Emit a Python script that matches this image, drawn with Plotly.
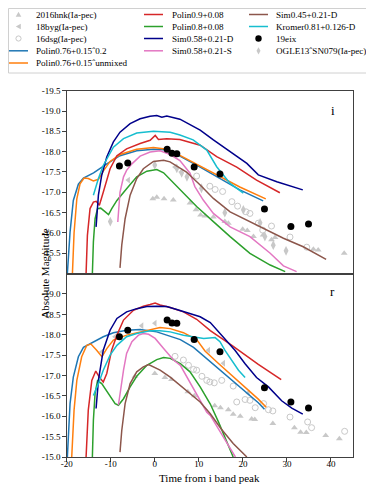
import plotly.graph_objects as go

# ---------------- data: i band (top panel) ----------------
hnk_i_t = [-0.45, 0.45, 2.1, 4.2, 8.0, 9.35, 10.4, 11.4, 13.3, 15.9, 16.7, 19.95, 21.0, 22.4, 24.6, 26.5, 27.3, 36.0, 37.1, 43.0]
hnk_i_m = [-16.84, -16.88, -16.84, -16.81, -16.74, -16.57, -16.44, -16.42, -16.39, -16.28, -16.24, -16.09, -16.06, -15.91, -15.95, -15.83, -15.89, -15.6, -15.58, -15.5]
byg_i_t = [-6.0, 4.6, 6.0]
byg_i_m = [-17.3, -17.62, -17.5]
dsg_i_t = [9.5, 12.5, 13.7, 15.4, 17.5, 18.8, 20.7, 21.6, 23.5, 24.5, 26.5, 30.7, 34.5]
dsg_i_m = [-17.4, -17.15, -17.07, -17.02, -16.77, -16.66, -16.52, -16.48, -16.24, -16.07, -16.17, -15.9, -15.65]
ogle_i_t = [-10.1, 0.0, 5.0, 6.1, 7.3, 10.6, 15.9, 20.1, 23.9, 25.0, 26.9, 29.8]
ogle_i_m = [-16.28, -17.67, -17.59, -17.48, -17.38, -17.1, -16.5, -16.57, -16.25, -15.91, -15.7, -15.56]

eix_t = [-8.03, -6.14, 2.8, 3.9, 5.0, 8.94, 14.8, 24.9, 30.9, 34.9]
eix_i_m = [-17.65, -17.72, -18.06, -17.96, -17.95, -17.62, -17.45, -16.59, -16.16, -16.22]
eix_r_m = [-17.95, -18.11, -18.36, -18.29, -18.28, -17.88, -17.58, -16.7, -16.35, -16.2]

p076_02_i_t = [-19.85, -19.24, -18.5, -17.35, -16.2, -13.9, -10.9, -7.9, -4.1, -0.3, 2.0, 5.7, 10.3, 14.8, 19.3, 24.6]
p076_02_i_m = [-15.0, -16.02, -16.8, -17.2, -17.35, -17.48, -17.7, -17.9, -18.02, -18.06, -18.05, -17.89, -17.62, -17.35, -17.06, -16.79]
p076_un_i_t = [-18.7, -18.33, -17.7, -16.97, -16.06, -15.1, -13.94, -12.8, -11.7, -10.15, -7.9, -4.1, -0.3, 2.7, 5.7, 10.3, 14.8, 19.3, 25.2]
p076_un_i_m = [-15.0, -16.0, -16.84, -17.21, -17.35, -17.34, -17.28, -17.32, -17.52, -17.76, -17.93, -18.06, -18.1, -18.06, -17.91, -17.64, -17.38, -17.13, -16.84]
p09_i_t = [-15.6, -15.3, -14.7, -13.94, -13.3, -12.58, -11.7, -10.15, -8.6, -6.4, -3.33, -1.06, 0.1, 0.83, 2.73, 5.7, 10.3, 14.05, 18.6, 23.1, 28.4]
p09_i_m = [-15.0, -15.94, -16.6, -16.76, -16.78, -16.68, -17.0, -17.58, -17.9, -18.07, -18.2, -18.28, -18.4, -18.3, -18.32, -18.3, -18.16, -17.88, -17.62, -17.3, -16.99]
p08_i_t = [-14.17, -13.94, -13.56, -13.0, -12.27, -11.28, -10.5, -9.77, -8.6, -6.4, -4.1, -1.8, 0.45, 2.0, 3.45, 6.5, 9.5, 13.3, 17.1, 21.6, 26.2, 29.6]
p08_i_m = [-15.0, -15.78, -16.35, -16.6, -16.61, -16.52, -16.45, -16.6, -16.8, -17.09, -17.38, -17.52, -17.56, -17.48, -17.32, -16.98, -16.65, -16.28, -15.91, -15.5, -15.21, -15.05]
simD_i_t = [-13.33, -12.8, -12.05, -10.9, -9.4, -7.9, -5.6, -3.33, -1.06, 0.45, 1.6, 2.73, 5.7, 10.3, 13.3, 17.1, 20.9, 23.5, 27.7, 33.6]
simD_i_m = [-16.15, -16.93, -17.42, -17.87, -18.24, -18.48, -18.69, -18.81, -18.87, -18.89, -18.85, -18.88, -18.8, -18.53, -18.29, -18.0, -17.71, -17.43, -17.26, -17.06]
simS_i_t = [-8.4, -7.9, -7.1, -6.4, -5.2, -3.33, -1.06, 1.2, 3.5, 5.7, 8.0, 9.1, 11.0, 13.3, 17.1, 21.6, 26.2, 29.2, 32.2]
simS_i_m = [-16.27, -17.0, -17.38, -17.54, -17.7, -17.89, -17.99, -18.02, -17.93, -17.78, -17.47, -17.14, -16.81, -16.48, -16.15, -15.91, -15.5, -15.19, -15.05]
sim045_i_t = [-7.9, -7.5, -6.74, -5.6, -4.1, -2.6, -0.3, 2.0, 3.45, 7.2, 10.3, 13.3, 17.1, 20.9, 25.4, 29.2, 33.7, 38.9]
sim045_i_m = [-15.14, -15.7, -16.35, -16.93, -17.34, -17.58, -17.76, -17.79, -17.75, -17.5, -17.18, -16.85, -16.52, -16.32, -16.07, -15.87, -15.66, -15.35]
kro_i_t = [-13.94, -12.8, -11.7, -9.4, -7.1, -4.1, -0.3, 3.5, 5.7, 8.7, 11.8, 14.05, 17.1, 20.1]
kro_i_m = [-16.93, -17.34, -17.66, -18.11, -18.32, -18.46, -18.5, -18.48, -18.41, -18.29, -18.04, -17.63, -17.22, -16.98]

# ---------------- data: r band (bottom panel) ----------------
hnk_r_t = [-4.5, 0.0, 2.3, 3.8, 7.5, 9.0, 13.6, 14.9, 16.7, 17.8, 19.4, 22.0, 22.7, 26.8, 31.7, 33.1, 34.4, 38.8, 41.9]
hnk_r_m = [-16.98, -17.05, -16.95, -16.9, -16.6, -16.5, -16.26, -16.21, -16.16, -16.05, -16.0, -15.93, -15.92, -15.82, -15.72, -15.61, -15.6, -15.53, -15.45]
byg_r_t = [-12.0, -9.0, -2.95, 0.05, 12.2, 15.6, 21.2]
byg_r_m = [-17.58, -17.95, -18.22, -18.28, -17.62, -17.3, -16.57]
dsg_r_t = [4.6, 6.5, 7.65, 8.8, 9.5, 10.7, 11.8, 12.5, 13.5, 15.2, 17.8, 18.6, 20.5, 21.6, 22.8, 24.7, 25.8, 26.8, 30.7, 34.7, 35.6, 43.1]
dsg_r_m = [-17.47, -17.38, -17.25, -17.15, -17.13, -16.98, -16.88, -16.84, -16.82, -16.88, -16.74, -16.35, -16.41, -16.39, -16.21, -16.31, -16.16, -16.13, -15.98, -15.86, -15.72, -15.63]

p076_02_r_t = [-19.85, -19.24, -18.5, -17.35, -16.2, -14.7, -13.2, -11.7, -9.4, -6.4, -3.3, -1.8, 0.45, 2.7, 5.8, 8.8, 11.4, 14.4, 17.5, 20.5, 23.5, 24.9]
p076_02_r_m = [-15.0, -16.31, -16.96, -17.46, -17.69, -17.77, -17.85, -17.95, -18.05, -18.11, -18.13, -18.11, -18.07, -17.99, -17.88, -17.69, -17.45, -17.17, -16.88, -16.6, -16.33, -16.17]
p076_un_r_t = [-18.86, -18.33, -17.7, -16.6, -15.45, -14.5, -13.2, -12.0, -10.9, -9.4, -6.4, -3.3, -1.06, 1.2, 3.5, 6.5, 9.5, 11.4, 14.4, 17.5, 20.5, 23.5, 25.3]
p076_un_r_m = [-15.0, -16.15, -16.88, -17.46, -17.74, -17.77, -17.62, -17.46, -17.66, -17.87, -17.99, -18.07, -18.11, -18.18, -18.15, -18.05, -17.88, -17.6, -17.3, -17.0, -16.7, -16.42, -16.22]
p09_r_t = [-15.6, -15.1, -14.3, -13.4, -12.6, -11.7, -10.9, -9.8, -8.6, -7.1, -4.85, -2.6, -1.06, 0.08, 1.2, 3.5, 6.5, 9.5, 12.6, 17.5, 23.5, 28.7]
p09_r_m = [-15.0, -16.15, -16.88, -17.11, -16.96, -16.84, -17.05, -17.62, -17.99, -18.36, -18.6, -18.7, -18.74, -18.78, -18.73, -18.67, -18.56, -18.38, -18.1, -17.74, -17.27, -16.9]
p08_r_t = [-14.17, -13.94, -13.56, -13.0, -12.05, -11.3, -10.15, -9.0, -8.26, -7.1, -5.6, -4.1, -1.8, 0.45, 2.0, 3.5, 5.8, 8.0, 10.3, 12.6, 14.5, 16.2, 17.8]
p08_r_m = [-15.0, -15.9, -16.56, -16.87, -16.8, -16.68, -16.47, -16.31, -16.27, -16.43, -16.72, -16.98, -17.25, -17.39, -17.44, -17.42, -17.29, -17.09, -16.72, -16.3, -15.85, -15.4, -15.0]
simD_r_t = [-13.33, -12.8, -11.7, -10.15, -8.6, -6.4, -4.1, -1.8, 0.45, 2.7, 5.0, 8.0, 10.3, 12.6, 14.4, 15.9, 18.2, 20.5, 23.1, 25.8, 28.8, 31.1, 33.6]
simD_r_m = [-16.19, -16.88, -17.62, -18.11, -18.4, -18.56, -18.64, -18.69, -18.7, -18.69, -18.62, -18.52, -18.44, -18.3, -18.08, -17.91, -17.62, -17.29, -16.95, -16.72, -16.38, -16.2, -16.05]
simS_r_t = [-8.26, -7.9, -7.1, -6.4, -5.2, -3.7, -2.6, -1.4, 0.08, 2.0, 4.24, 5.8, 7.3, 8.8, 10.3, 11.8, 12.6, 15.5, 18.3]
simS_r_m = [-16.27, -16.55, -17.13, -17.54, -17.83, -17.99, -18.03, -18.01, -17.91, -17.66, -17.38, -17.25, -16.96, -16.68, -16.39, -16.1, -16.02, -15.5, -15.0]
sim045_r_t = [-7.9, -7.5, -6.74, -5.6, -4.1, -2.6, -1.4, -0.3, 1.2, 3.5, 5.8, 8.0, 10.3, 12.6, 15.0, 17.8, 20.9]
sim045_r_m = [-15.12, -15.65, -16.31, -16.8, -17.09, -17.21, -17.27, -17.21, -17.13, -16.96, -16.76, -16.55, -16.35, -16.06, -15.7, -15.33, -15.0]
kro_r_t = [-13.94, -12.8, -11.7, -10.15, -8.6, -6.4, -4.1, -1.06, 1.2, 3.5, 6.5, 8.8, 11.1, 13.7, 14.8, 15.9, 17.5, 19.0, 20.5]
kro_r_m = [-16.51, -16.8, -17.13, -17.5, -17.74, -17.95, -18.03, -18.1, -18.1, -18.07, -17.99, -17.95, -17.91, -17.93, -17.83, -17.62, -17.38, -17.13, -16.95]

x_ticks = [-20, -10, 0, 10, 20, 30, 40]
y_ticks_top = [-19.5, -19.0, -18.5, -18.0, -17.5, -17.0, -16.5, -16.0, -15.5]
y_ticks_bot = [-19.0, -18.5, -18.0, -17.5, -17.0, -16.5, -16.0, -15.5, -15.0]

GRAY = '#c8c8c8'
SERIF = 'Liberation Serif, DejaVu Serif, serif'
# the page body has an 8px margin: the figure starts 8px in and runs to the window edge
OFF = 8
W, H = 374 - OFF, 487 - OFF

models = [
    ('Polin0.76+0.15ˆ0.2', '#1f77b4', p076_02_i_t, p076_02_i_m, p076_02_r_t, p076_02_r_m),
    ('Polin0.76+0.15ˆunmixed', '#ff7f0e', p076_un_i_t, p076_un_i_m, p076_un_r_t, p076_un_r_m),
    ('Polin0.9+0.08', '#d62728', p09_i_t, p09_i_m, p09_r_t, p09_r_m),
    ('Polin0.8+0.08', '#2ca02c', p08_i_t, p08_i_m, p08_r_t, p08_r_m),
    ('Sim0.58+0.21-D', '#00008b', simD_i_t, simD_i_m, simD_r_t, simD_r_m),
    ('Sim0.58+0.21-S', '#e377c2', simS_i_t, simS_i_m, simS_r_t, simS_r_m),
    ('Sim0.45+0.21-D', '#8c564b', sim045_i_t, sim045_i_m, sim045_r_t, sim045_r_m),
    ('Kromer0.81+0.126-D', '#17becf', kro_i_t, kro_i_m, kro_r_t, kro_r_m),
]

fig = go.Figure()


def gray_markers(t, m, symbol, axes, size=6):
    open_ = symbol.endswith('open')
    fig.add_trace(go.Scatter(
        x=t, y=m, mode='markers', showlegend=False,
        xaxis=axes[0], yaxis=axes[1],
        marker=dict(symbol=symbol, size=size, color=GRAY,
                    line=dict(width=1 if open_ else 0, color=GRAY))))


for axes, hnk, byg, dsg in [(('x', 'y'), (hnk_i_t, hnk_i_m), (byg_i_t, byg_i_m), (dsg_i_t, dsg_i_m)),
                            (('x2', 'y2'), (hnk_r_t, hnk_r_m), (byg_r_t, byg_r_m), (dsg_r_t, dsg_r_m))]:
    gray_markers(*hnk, 'triangle-up', axes)
    gray_markers(*byg, 'triangle-left', axes)
    gray_markers(*dsg, 'circle-open', axes)

gray_markers(ogle_i_t, ogle_i_m, 'diamond-tall', ('x', 'y'), size=7)

for name, color, it, im, rt, rm in models:
    fig.add_trace(go.Scatter(x=it, y=im, mode='lines', name=name, showlegend=False,
                             line=dict(color=color, width=1.5), xaxis='x', yaxis='y'))
    fig.add_trace(go.Scatter(x=rt, y=rm, mode='lines', name=name, showlegend=False,
                             line=dict(color=color, width=1.5), xaxis='x2', yaxis='y2'))

fig.add_trace(go.Scatter(x=eix_t, y=eix_i_m, mode='markers', name='19eix', showlegend=False,
                         marker=dict(color='black', size=7), xaxis='x', yaxis='y'))
fig.add_trace(go.Scatter(x=eix_t, y=eix_r_m, mode='markers', name='19eix', showlegend=False,
                         marker=dict(color='black', size=7), xaxis='x2', yaxis='y2'))


# ---------------- hand-made legend (matplotlib style, 3 columns) ----------------
# positions below are given in window pixels and converted to paper units
def px(x):
    return (x - OFF) / W


def py(y):
    return 1 - (y - OFF) / H


shapes = [dict(type='rect', xref='paper', yref='paper', x0=px(8.5), x1=px(368.5), y0=py(8.5), y1=py(73),
               line=dict(color='#d0d0d0', width=1), fillcolor='rgba(0,0,0,0)')]
annotations = []
rows = [14.5, 26.5, 38.5, 50.8, 63]
columns = [
    (18.5, 34, [('2016hnk(Ia-pec)', 'tri'), ('18byg(Ia-pec)', 'tril'), ('16dsg(Ia-pec)', 'circ'),
                ('Polin0.76+0.15ˆ0.2', '#1f77b4'), ('Polin0.76+0.15ˆunmixed', '#ff7f0e')]),
    (153.5, 170, [('Polin0.9+0.08', '#d62728'), ('Polin0.8+0.08', '#2ca02c'),
                  ('Sim0.58+0.21-D', '#00008b'), ('Sim0.58+0.21-S', '#e377c2')]),
    (258.5, 274, [('Sim0.45+0.21-D', '#8c564b'), ('Kromer0.81+0.126-D', '#17becf'),
                  ('19eix', 'dot'), ('OGLE13ˆSN079(Ia-pec)', 'diam')]),
]


def path(points):
    return 'M ' + ' L '.join(f'{px(a):.5f},{py(b):.5f}' for a, b in points) + ' Z'


for cx, tx, items in columns:
    for (label, glyph), ry in zip(items, rows):
        if glyph.startswith('#'):
            shapes.append(dict(type='line', xref='paper', yref='paper', x0=px(cx - 9.5), x1=px(cx + 9.5),
                               y0=py(ry), y1=py(ry), line=dict(color=glyph, width=1.5)))
        elif glyph == 'tri':
            shapes.append(dict(type='path', xref='paper', yref='paper', line=dict(width=0), fillcolor=GRAY,
                               path=path([(cx - 2.8, ry + 2.3), (cx + 2.8, ry + 2.3), (cx, ry - 2.7)])))
        elif glyph == 'tril':
            shapes.append(dict(type='path', xref='paper', yref='paper', line=dict(width=0), fillcolor=GRAY,
                               path=path([(cx + 2.3, ry - 2.8), (cx + 2.3, ry + 2.8), (cx - 2.7, ry)])))
        elif glyph == 'circ':
            shapes.append(dict(type='circle', xref='paper', yref='paper', x0=px(cx - 2.6), x1=px(cx + 2.6),
                               y0=py(ry - 2.6), y1=py(ry + 2.6), line=dict(color=GRAY, width=1)))
        elif glyph == 'dot':
            shapes.append(dict(type='circle', xref='paper', yref='paper', x0=px(cx - 3.2), x1=px(cx + 3.2),
                               y0=py(ry - 3.2), y1=py(ry + 3.2), line=dict(width=0), fillcolor='black'))
        elif glyph == 'diam':
            shapes.append(dict(type='path', xref='paper', yref='paper', line=dict(width=0), fillcolor=GRAY,
                               path=path([(cx, ry - 3.6), (cx + 2.0, ry), (cx, ry + 3.6), (cx - 2.0, ry)])))
        annotations.append(dict(text=label, xref='paper', yref='paper', x=px(tx), y=py(ry),
                                xanchor='left', yanchor='middle', showarrow=False,
                                font=dict(family=SERIF, size=9.1, color='black')))

annotations += [
    dict(text='i', xref='paper', yref='paper', x=px(337), y=py(101), showarrow=False,
         font=dict(family=SERIF, size=13, color='black')),
    dict(text='r', xref='paper', yref='paper', x=px(337), y=py(291), showarrow=False,
         font=dict(family=SERIF, size=13, color='black')),
    dict(text='Absolute Magnitude', xref='paper', yref='paper', x=px(37), y=py(273.6), textangle=-90,
         showarrow=False, font=dict(family=SERIF, size=11, color='black')),
    dict(text='Time from i band peak', xref='paper', yref='paper', x=px(210), y=py(478), showarrow=False,
         yanchor='middle', font=dict(family=SERIF, size=11, color='black')),
]

axis_common = dict(showline=True, mirror=True, linecolor='#404040', linewidth=1, showgrid=False,
                   zeroline=False, ticks='outside', ticklen=3.5, tickwidth=0.8, tickcolor='#404040',
                   tickfont=dict(family=SERIF, size=9, color='black'), automargin=False)

x_dom = [px(66.7), px(353)]
fig.update_layout(
    width=W, height=H,
    margin=dict(l=0, r=0, t=0, b=0),
    paper_bgcolor='white', plot_bgcolor='white',
    showlegend=False,
    xaxis=dict(axis_common, domain=x_dom, anchor='y', range=[-20, 45], matches='x2',
               showticklabels=False, ticks=''),
    xaxis2=dict(axis_common, domain=x_dom, anchor='y2', range=[-20, 45], ticklabelstandoff=-5,
                tickmode='array', tickvals=x_ticks, ticktext=[str(v) for v in x_ticks]),
    yaxis=dict(axis_common, domain=[py(273.6), py(90.7)], anchor='x', range=[-15.0, -19.5],
               tickmode='array', tickvals=y_ticks_top, ticktext=[f'{v:.1f}' for v in y_ticks_top]),
    yaxis2=dict(axis_common, domain=[py(457), py(273.6)], anchor='x2', range=[-15.0, -19.5],
                tickmode='array', tickvals=y_ticks_bot, ticktext=[f'{v:.1f}' for v in y_ticks_bot]),
    shapes=shapes,
    annotations=annotations,
)

fig.write_html('out.html')
